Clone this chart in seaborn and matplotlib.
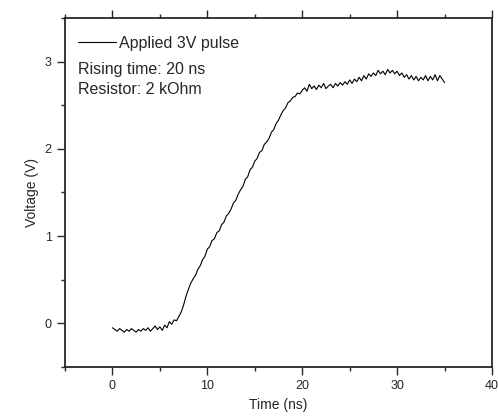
import numpy as np
import pandas as pd
import seaborn as sns
import matplotlib.pyplot as plt
from matplotlib.ticker import MultipleLocator

# sampling of the scope trace (ns)
T_START = 0.0
T_STEP = 0.25

# voltage, one value per sample
volt_base = [-0.05, -0.07, -0.09, -0.06, -0.08, -0.10, -0.07, -0.09, -0.06, -0.08,
             -0.10, -0.07, -0.09, -0.06, -0.08, -0.05, -0.09, -0.06, -0.03, -0.07,
             -0.04, -0.08, -0.02, -0.05, 0.02, -0.01, 0.04, 0.03, 0.08]
volt_rise = [0.13, 0.21, 0.31, 0.39, 0.46, 0.51, 0.55, 0.62, 0.66, 0.73,
             0.77, 0.85, 0.88, 0.95, 0.97, 1.04, 1.06, 1.13, 1.16, 1.23,
             1.26, 1.31, 1.38, 1.41, 1.48, 1.53, 1.57, 1.65, 1.68, 1.76,
             1.79, 1.86, 1.89, 1.96, 1.98, 2.05, 2.08, 2.12, 2.19, 2.22,
             2.29, 2.33, 2.39, 2.44, 2.47, 2.53, 2.55, 2.59, 2.60, 2.64,
             2.63, 2.67]
volt_top = [2.70, 2.66, 2.74, 2.69, 2.72, 2.68, 2.73, 2.70, 2.75, 2.69,
            2.72, 2.74, 2.70, 2.75, 2.72, 2.76, 2.73, 2.77, 2.74, 2.79,
            2.75, 2.80, 2.77, 2.82, 2.78, 2.84, 2.80, 2.86, 2.83, 2.87,
            2.84, 2.90, 2.86, 2.89, 2.85, 2.91, 2.87, 2.90, 2.86, 2.89,
            2.84, 2.87, 2.82, 2.85, 2.80, 2.84, 2.79, 2.83, 2.78, 2.82,
            2.79, 2.84, 2.78, 2.83, 2.79, 2.85, 2.78, 2.84, 2.80, 2.76]

volt = volt_base + volt_rise + volt_top
time = T_START + T_STEP * np.arange(len(volt))
df = pd.DataFrame({'Time (ns)': time, 'Voltage (V)': volt})

sns.set_style('ticks')
plt.rcParams['font.family'] = ['Liberation Sans', 'DejaVu Sans']

fig = plt.figure(figsize=(4.98, 4.18), dpi=100)
ax = fig.add_axes([0.1305, 0.122, 0.8575, 0.835])

sns.lineplot(data=df, x='Time (ns)', y='Voltage (V)', ax=ax, color='black',
             linewidth=0.8, label='Applied 3V pulse')

ax.set_xlim(-5, 40)
ax.set_ylim(-0.5, 3.5)
ax.xaxis.set_major_locator(MultipleLocator(10))
ax.xaxis.set_minor_locator(MultipleLocator(5))
ax.yaxis.set_major_locator(MultipleLocator(1))
ax.yaxis.set_minor_locator(MultipleLocator(0.5))
ax.tick_params(which='both', direction='out', width=1.0, labelsize=9,
               top=True, right=False, labeltop=False)
ax.tick_params(which='major', length=6)
ax.tick_params(which='minor', length=3)
for s in ax.spines.values():
    s.set_visible(True)
    s.set_linewidth(1.3)
ax.set_xlabel('Time (ns)', fontsize=10)
ax.set_ylabel('Voltage (V)', fontsize=10)

ax.legend(loc='upper left', bbox_to_anchor=(0.0, 0.985), frameon=False,
          fontsize=11.5, handlelength=2.4, handletextpad=0.2, borderaxespad=0.4)
ax.text(0.03, 0.873, 'Rising time: 20 ns\nResistor: 2 kOhm', transform=ax.transAxes,
        fontsize=11.5, va='top', linespacing=1.4)

fig.savefig('out.png', dpi=100)
